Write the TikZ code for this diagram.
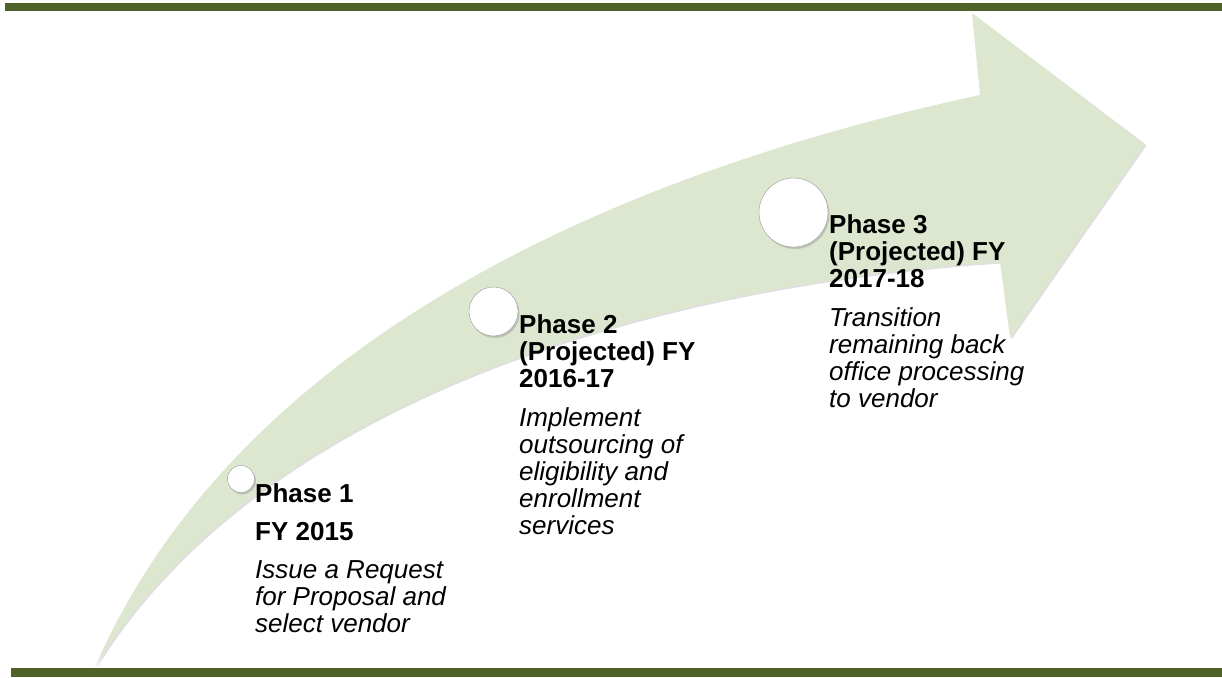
\documentclass[tikz,border=0pt]{standalone}
\usepackage{fontspec}
\setmainfont{Liberation Sans}
\usetikzlibrary{positioning,shadows}
\definecolor{myolive}{RGB}{79,98,40}
\definecolor{mylightgreen}{RGB}{221,231,208}

\begin{document}
\begin{tikzpicture}[x=1pt,y=-1pt,
  phasedot/.style={circle,fill=white,draw=gray!80,thin,inner sep=0pt,
    drop shadow={shadow xshift=1.5pt,shadow yshift=-2pt,opacity=0.35}},
  phasetext/.style={anchor=base west,align=left,inner sep=0pt,
    font=\fontsize{26}{27}\selectfont}
]
\useasboundingbox (0,0) rectangle (1222,677);

% the big curved arrow
\fill[mylightgreen,drop shadow={shadow xshift=1.5pt,shadow yshift=-1.5pt,opacity=0.25}]
  (95,667) .. controls (220,380) and (540,190) .. (980,95)
  -- (972,13) -- (1145,144) -- (1010,338) -- (1000,262)
  .. controls (650,285) and (260,400) .. (95,667) -- cycle;

% the bars
\fill[myolive] (5,3) rectangle (1222,11);
\fill[myolive] (11,668) rectangle (1222,677);

% the phase dots
\node[phasedot,minimum size=27pt] (dot1) at (241,479) {};
\node[phasedot,minimum size=49pt] (dot2) at (493.5,311.5) {};
\node[phasedot,minimum size=69pt] (dot3) at (793.5,212.5) {};

% the phase texts (anchored at the baseline of their last line)
\node[phasetext] (phase1) at (255,632)
  {\textbf{Phase 1}\\[11pt]
   \textbf{FY 2015}\\[11pt]
   \textit{Issue a Request}\\
   \textit{for Proposal and}\\
   \textit{select vendor}};
\node[phasetext] (phase2) at (519,534)
  {\textbf{Phase 2}\\
   \textbf{(Projected) FY}\\
   \textbf{2016-17}\\[12pt]
   \textit{Implement}\\
   \textit{outsourcing of}\\
   \textit{eligibility and}\\
   \textit{enrollment}\\
   \textit{services}};
\node[phasetext] (phase3) at (829,407)
  {\textbf{Phase 3}\\
   \textbf{(Projected) FY}\\
   \textbf{2017-18}\\[12pt]
   \textit{Transition}\\
   \textit{remaining back}\\
   \textit{office processing}\\
   \textit{to vendor}};
\end{tikzpicture}
\end{document}
